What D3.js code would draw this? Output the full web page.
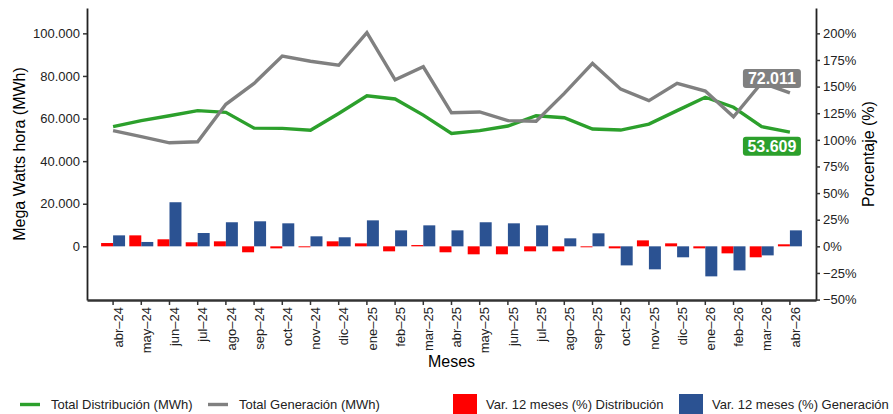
<!DOCTYPE html>
<html>
<head>
<meta charset="utf-8">
<script src="https://cdn.jsdelivr.net/npm/d3@7"></script>
<style>
  html, body { margin: 0; padding: 0; background: #fff; }
  svg { display: block; font-family: "Liberation Sans", Arial, sans-serif; }
</style>
</head>
<body>
<svg id="chart" width="893" height="414"></svg>
<script>
// ---- data ----
const months = ["abr–24","may–24","jun–24","jul–24","ago–24","sep–24","oct–24","nov–24","dic–24",
  "ene–25","feb–25","mar–25","abr–25","may–25","jun–25","jul–25","ago–25","sep–25","oct–25",
  "nov–25","dic–25","ene–26","feb–26","mar–26","abr–26"];
const distribucion = [56200, 59000, 61300, 63700, 62900, 55500, 55400, 54500, 62400, 70700, 69200, 61600,
  53000, 54300, 56500, 61300, 60400, 55100, 54600, 57400, 63700, 70000, 65300, 56200, 53609];
const generacion = [54300, 51500, 48600, 49100, 66700, 76500, 89300, 86900, 85000, 100300, 78200, 84300,
  62700, 63100, 59000, 58700, 71800, 85900, 73800, 68400, 76500, 72900, 60800, 76800, 72011];
const varDistribucion = [3.1, 10.3, 6.6, 3.8, 4.7, -5.6, -1.9, -0.9, 4.7, 2.8, -4.7, 1.2,
  -5.6, -7.5, -7.5, -4.7, -4.7, -0.9, -1.9, 5.6, 2.8, -1.9, -6.6, -10.3, 1.9];
const varGeneracion = [10.3, 4.1, 41.4, 12.5, 22.6, 23.5, 21.6, 9.4, 8.5, 24.4, 15.0, 19.7,
  15.0, 22.6, 21.6, 19.7, 7.5, 12.2, -17.9, -21.6, -10.3, -28.2, -22.6, -8.5, 15.0];
const leftTicks = [0, 20000, 40000, 60000, 80000, 100000];
const rightTicks = [-50, -25, 0, 25, 50, 75, 100, 125, 150, 175, 200];
const legendItems = [
  {label: "Total Distribución (MWh)", type: "line", color: "#2ca02c"},
  {label: "Total Generación (MWh)", type: "line", color: "#808080"},
  {label: "Var. 12 meses (%) Distribución", type: "rect", color: "#ff0000"},
  {label: "Var. 12 meses (%) Generación", type: "rect", color: "#2b5292"}
];

// ---- layout ----
const L = 87, R = 816, T = 8, B = 300;
const svg = d3.select("#chart");
const loc = d3.formatLocale({decimal: ",", thousands: ".", grouping: [3], currency: ["", ""]});
const fmtN = loc.format(",.0f");

const x = d3.scaleBand().domain(months).range([L, R]).paddingInner(0).paddingOuter(0.425);
const yL = d3.scaleLinear().domain([-25200, 111900]).range([B, T]);
const yR = d3.scaleLinear().domain([-25200 / 500, 111900 / 500]).range([B, T]);
const cx = m => x(m) + x.bandwidth() / 2;
const barW = x.bandwidth() * 0.425;

// bars
const g = svg.append("g");
g.selectAll("rect.dist").data(months).join("rect")
  .attr("x", (m) => cx(m) - barW)
  .attr("width", barW)
  .attr("y", (m, i) => yR(Math.max(0, varDistribucion[i])))
  .attr("height", (m, i) => Math.abs(yR(varDistribucion[i]) - yR(0)))
  .attr("fill", "#ff0000");
g.selectAll("rect.gen").data(months).join("rect")
  .attr("x", (m) => cx(m))
  .attr("width", barW)
  .attr("y", (m, i) => yR(Math.max(0, varGeneracion[i])))
  .attr("height", (m, i) => Math.abs(yR(varGeneracion[i]) - yR(0)))
  .attr("fill", "#2b5292");

// lines
const line = d3.line().x((d, i) => cx(months[i])).y(d => yL(d));
g.append("path").datum(distribucion).attr("d", line)
  .attr("fill", "none").attr("stroke", "#2ca02c").attr("stroke-width", 3.4);
g.append("path").datum(generacion).attr("d", line)
  .attr("fill", "none").attr("stroke", "#808080").attr("stroke-width", 3.4);

// end labels
const lastM = months[months.length - 1];
const labels = [
  {v: generacion[generacion.length - 1], color: "#808080", dy: -14.5},
  {v: distribucion[distribucion.length - 1], color: "#2ca02c", dy: 14}
];
labels.forEach(l => {
  const lx = cx(lastM) - 18, ly = yL(l.v) + l.dy;
  g.append("rect").attr("x", lx - 29).attr("y", ly - 9.5).attr("width", 58).attr("height", 19)
    .attr("rx", 3).attr("fill", l.color);
  g.append("text").attr("x", lx).attr("y", ly).attr("dy", "0.36em")
    .attr("text-anchor", "middle").attr("fill", "#fff")
    .attr("font-size", 16).attr("font-weight", "bold").text(fmtN(l.v));
});

// axes
const axL = svg.append("g").attr("transform", `translate(${L},0)`)
  .call(d3.axisLeft(yL).tickValues(leftTicks).tickFormat(fmtN).tickSize(4).tickSizeOuter(0));
const axR = svg.append("g").attr("transform", `translate(${R},0)`)
  .call(d3.axisRight(yR).tickValues(rightTicks).tickFormat(d => loc.format(".0f")(d) + "%").tickSize(4).tickSizeOuter(0));
const axB = svg.append("g").attr("transform", `translate(0,${B})`)
  .call(d3.axisBottom(x).tickSize(5).tickSizeOuter(0));
[axL, axR, axB].forEach(a => {
  a.select(".domain").attr("stroke", "#222").attr("stroke-width", 1.8);
  a.selectAll(".tick line").attr("stroke", "#333").attr("stroke-width", 1.5);
  a.selectAll(".tick text").attr("font-size", 13).attr("fill", "#222")
    .attr("font-family", "Liberation Sans, Arial, sans-serif");
});
axB.select(".domain").attr("stroke", "#333").attr("stroke-width", 2.4);
axL.selectAll(".tick text").attr("x", -7);
axR.selectAll(".tick text").attr("x", 7);
axB.selectAll(".tick text")
  .attr("transform", "rotate(-90)")
  .attr("text-anchor", "end")
  .attr("x", -7).attr("y", 0).attr("dy", "0.74em");

// axis titles
svg.append("text").attr("transform", `translate(25,${(T + B) / 2}) rotate(-90)`)
  .attr("text-anchor", "middle").attr("font-size", 16).attr("fill", "#000").text("Mega Watts hora (MWh)");
svg.append("text").attr("transform", `translate(874,${(T + B) / 2}) rotate(-90)`)
  .attr("text-anchor", "middle").attr("font-size", 16).attr("fill", "#000").text("Porcentaje (%)");
svg.append("text").attr("x", (L + R) / 2).attr("y", 367)
  .attr("text-anchor", "middle").attr("font-size", 16).attr("fill", "#000").text("Meses");

// legend
const legX = [20, 208, 453, 679];
const lg = svg.append("g");
legendItems.forEach((it, i) => {
  const x0 = legX[i];
  if (it.type === "line") {
    lg.append("line").attr("x1", x0).attr("x2", x0 + 20).attr("y1", 404.5).attr("y2", 404.5)
      .attr("stroke", it.color).attr("stroke-width", 3.4);
    lg.append("text").attr("x", x0 + 31).attr("y", 404.5).attr("dy", "0.36em")
      .attr("font-size", 13).attr("fill", "#222").text(it.label);
  } else {
    lg.append("rect").attr("x", x0).attr("y", 394).attr("width", 24).attr("height", 24).attr("fill", it.color);
    lg.append("text").attr("x", x0 + 33).attr("y", 404.5).attr("dy", "0.36em")
      .attr("font-size", 13).attr("fill", "#222").text(it.label);
  }
});
</script>
</body>
</html>
